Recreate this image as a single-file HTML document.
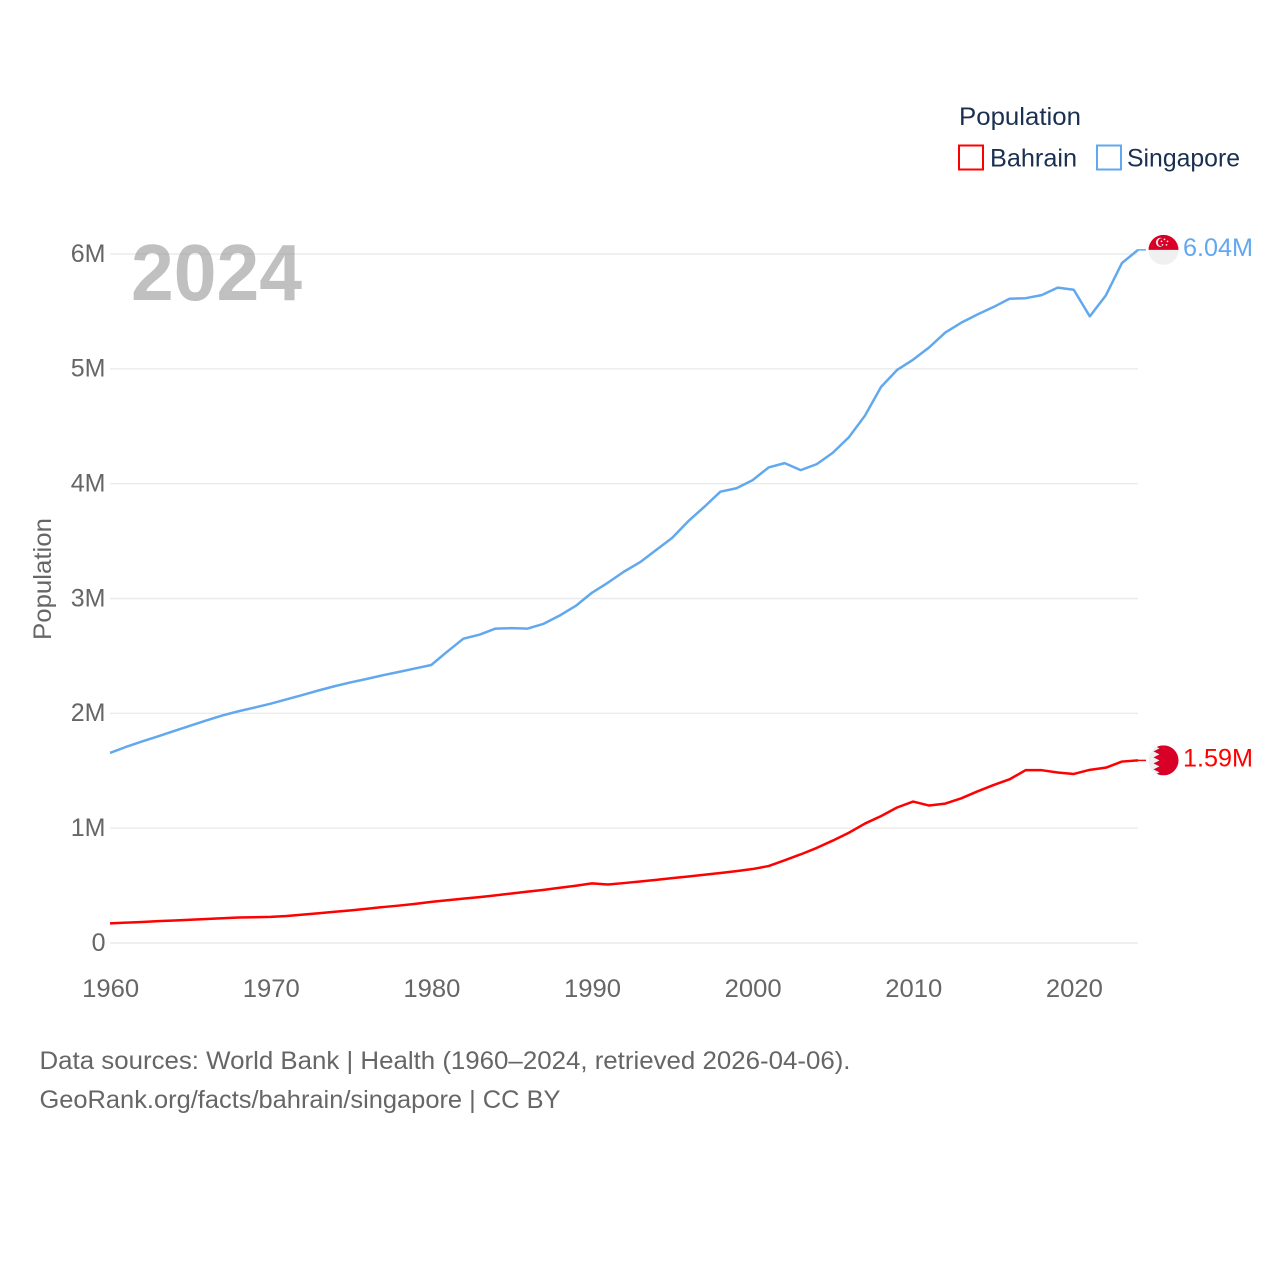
<!DOCTYPE html>
<html lang="en">
<head>
<meta charset="utf-8">
<title>Population: Bahrain and Singapore</title>
<style>
html,body{margin:0;padding:0;background:#fff;}
svg{display:block;font-family:"Liberation Sans",sans-serif;}
</style>
</head>
<body>
<svg id="chart" xmlns="http://www.w3.org/2000/svg" width="1280" height="1280" viewBox="0 0 1280 1280">
  <defs>
    <clipPath id="flag-clip"><circle cx="0" cy="0" r="15"/></clipPath>
  </defs>
  <rect x="0" y="0" width="1280" height="1280" fill="#fff"/>

  <text x="959" y="125" font-size="25" fill="#1a3050" textLength="122" lengthAdjust="spacingAndGlyphs">Population</text>
  <rect x="959" y="145.5" width="24" height="24" fill="none" stroke="#ff0000" stroke-width="2"/>
  <text x="990" y="166.5" font-size="25" fill="#1a3050" textLength="87" lengthAdjust="spacingAndGlyphs">Bahrain</text>
  <rect x="1097" y="145.5" width="24" height="24" fill="none" stroke="#62a8ee" stroke-width="2"/>
  <text x="1127" y="166.5" font-size="25" fill="#1a3050" textLength="113" lengthAdjust="spacingAndGlyphs">Singapore</text>

  <text transform="translate(51,640) rotate(-90)" font-size="25" fill="#666" textLength="122" lengthAdjust="spacingAndGlyphs">Population</text>

  <g id="grid"></g>
  <g id="y-ticks"></g>
  <g id="x-ticks"></g>

  <text x="131" y="300" font-size="80" font-weight="bold" fill="#999" fill-opacity="0.62" textLength="171" lengthAdjust="spacingAndGlyphs">2024</text>

  <g id="series"></g>

  <g id="flag-singapore">
    <g clip-path="url(#flag-clip)">
      <rect x="-15" y="-15" width="30" height="30" fill="#f0f0f0"/>
      <rect x="-15" y="-15" width="30" height="15" fill="#d80027"/>
      <circle cx="-3" cy="-7.5" r="4.6" fill="#f0f0f0"/>
      <circle cx="-1.5" cy="-7.5" r="4.2" fill="#d80027"/>
      <circle cx="1" cy="-10.5" r="0.9" fill="#f0f0f0"/>
      <circle cx="4" cy="-8.5" r="0.9" fill="#f0f0f0"/>
      <circle cx="3" cy="-5" r="0.9" fill="#f0f0f0"/>
      <circle cx="-1" cy="-5" r="0.9" fill="#f0f0f0"/>
      <circle cx="-2" cy="-8.5" r="0.9" fill="#f0f0f0"/>
    </g>
  </g>
  <g id="flag-bahrain">
    <g clip-path="url(#flag-clip)">
      <rect x="-15" y="-15" width="30" height="30" fill="#f0f0f0"/>
      <polygon fill="#d80027" points="15,-15 -10,-15 -4,-12 -10,-9 -4,-6 -10,-3 -4,0 -10,3 -4,6 -10,9 -4,12 -10,15 15,15"/>
    </g>
  </g>

  <g id="end-labels"></g>

  <text x="39.5" y="1069" font-size="25" fill="#666" textLength="811" lengthAdjust="spacingAndGlyphs">Data sources: World Bank | Health (1960–2024, retrieved 2026-04-06).</text>
  <text x="39.5" y="1108" font-size="25" fill="#666" textLength="521" lengthAdjust="spacingAndGlyphs">GeoRank.org/facts/bahrain/singapore | CC BY</text>
</svg>

<script>
const firstYear = 1960;
const yTickValues = [0, 1000000, 2000000, 3000000, 4000000, 5000000, 6000000];
const yTickLabels = ["0", "1M", "2M", "3M", "4M", "5M", "6M"];
const xTickYears = [1960, 1970, 1980, 1990, 2000, 2010, 2020];
const bahrainValues = [
  0.171, 0.177, 0.183, 0.190, 0.196, 0.202, 0.209, 0.216, 0.222, 0.224,
  0.227, 0.235, 0.247, 0.259, 0.272, 0.284, 0.298, 0.313, 0.326, 0.341,
  0.358, 0.372, 0.386, 0.400, 0.415, 0.431, 0.447, 0.463, 0.481, 0.499,
  0.519, 0.509, 0.522, 0.536, 0.550, 0.565, 0.579, 0.594, 0.610, 0.626,
  0.644, 0.670, 0.720, 0.772, 0.828, 0.892, 0.960, 1.040, 1.105, 1.180,
  1.232, 1.197, 1.214, 1.260, 1.320, 1.375, 1.425, 1.505, 1.505, 1.485,
  1.472, 1.508, 1.527, 1.580, 1.590
];
const singaporeValues = [
  1.655, 1.708, 1.755, 1.800, 1.847, 1.892, 1.938, 1.982, 2.018, 2.050,
  2.084, 2.122, 2.160, 2.200, 2.237, 2.270, 2.300, 2.332, 2.361, 2.391,
  2.421, 2.538, 2.650, 2.685, 2.738, 2.742, 2.738, 2.780, 2.852, 2.936,
  3.050, 3.138, 3.234, 3.316, 3.422, 3.528, 3.673, 3.798, 3.930, 3.960,
  4.030, 4.141, 4.179, 4.118, 4.170, 4.269, 4.404, 4.592, 4.842, 4.990,
  5.080, 5.187, 5.316, 5.402, 5.473, 5.538, 5.610, 5.615, 5.642, 5.707,
  5.689, 5.457, 5.640, 5.921, 6.036
];
const bahrainEndLabel = "1.59M";
const singaporeEndLabel = "6.04M";

const SVG_NS = "http://www.w3.org/2000/svg";
const PLOT = { left: 110, right: 1138, top: 254, bottom: 943 };
const yearSpan = bahrainValues.length - 1;

function xScale(year) {
  return PLOT.left + (year - firstYear) * (PLOT.right - PLOT.left) / yearSpan;
}
function yScale(value) {
  return PLOT.bottom - value * (PLOT.bottom - PLOT.top) / 6000000;
}
function make(tag, parentId) {
  const el = document.createElementNS(SVG_NS, tag);
  document.getElementById(parentId).appendChild(el);
  return el;
}

yTickValues.forEach(function (value, i) {
  const line = make("line", "grid");
  
  
  line.setAttribute("x1", PLOT.left);
  line.setAttribute("x2", PLOT.right);
  line.setAttribute("y1", yScale(value));
  line.setAttribute("y2", yScale(value));
  line.setAttribute("stroke", "#ebebeb");
  line.setAttribute("stroke-width", "1.4");

  const label = make("text", "y-ticks");
  
  
  label.setAttribute("x", 105.5);
  label.setAttribute("y", yScale(value) + 7.8);
  label.setAttribute("text-anchor", "end");
  label.setAttribute("font-size", "25");
  label.setAttribute("fill", "#666");
  label.textContent = yTickLabels[i];
});

xTickYears.forEach(function (year) {
  const label = make("text", "x-ticks");
  
  
  label.setAttribute("x", xScale(year) + 0.7);
  label.setAttribute("y", 997);
  label.setAttribute("text-anchor", "middle");
  label.setAttribute("font-size", "25");
  label.setAttribute("fill", "#666");
  label.setAttribute("textLength", "57");
  label.setAttribute("lengthAdjust", "spacingAndGlyphs");
  label.textContent = String(year);
});

function drawSeries(values, color, seriesName, endLabel, flagId) {
  const points = values.map(function (v, i) {
    return xScale(firstYear + i).toFixed(2) + "," + yScale(v * 1000000).toFixed(2);
  }).join(" ");
  const line = make("polyline", "series");
  
  
  line.setAttribute("points", points);
  line.setAttribute("fill", "none");
  line.setAttribute("stroke", color);
  line.setAttribute("stroke-width", "2.5");
  line.setAttribute("stroke-linejoin", "round");

  const lastY = yScale(values[values.length - 1] * 1000000);
  const connector = make("line", "series");
  
  
  connector.setAttribute("x1", PLOT.right);
  connector.setAttribute("x2", 1146);
  connector.setAttribute("y1", lastY);
  connector.setAttribute("y2", lastY);
  connector.setAttribute("stroke", color);
  connector.setAttribute("stroke-width", "1.5");

  document.getElementById(flagId).setAttribute("transform", "translate(1163.5," + lastY + ")");

  const label = make("text", "end-labels");
  
  
  label.setAttribute("x", 1183);
  label.setAttribute("y", lastY + 6);
  label.setAttribute("font-size", "25");
  label.setAttribute("fill", color);
  label.setAttribute("textLength", "70");
  label.setAttribute("lengthAdjust", "spacingAndGlyphs");
  label.textContent = endLabel;
}

drawSeries(singaporeValues, "#62a8ee", "singapore", singaporeEndLabel, "flag-singapore");
drawSeries(bahrainValues, "#ff0000", "bahrain", bahrainEndLabel, "flag-bahrain");
</script>
</body>
</html>
